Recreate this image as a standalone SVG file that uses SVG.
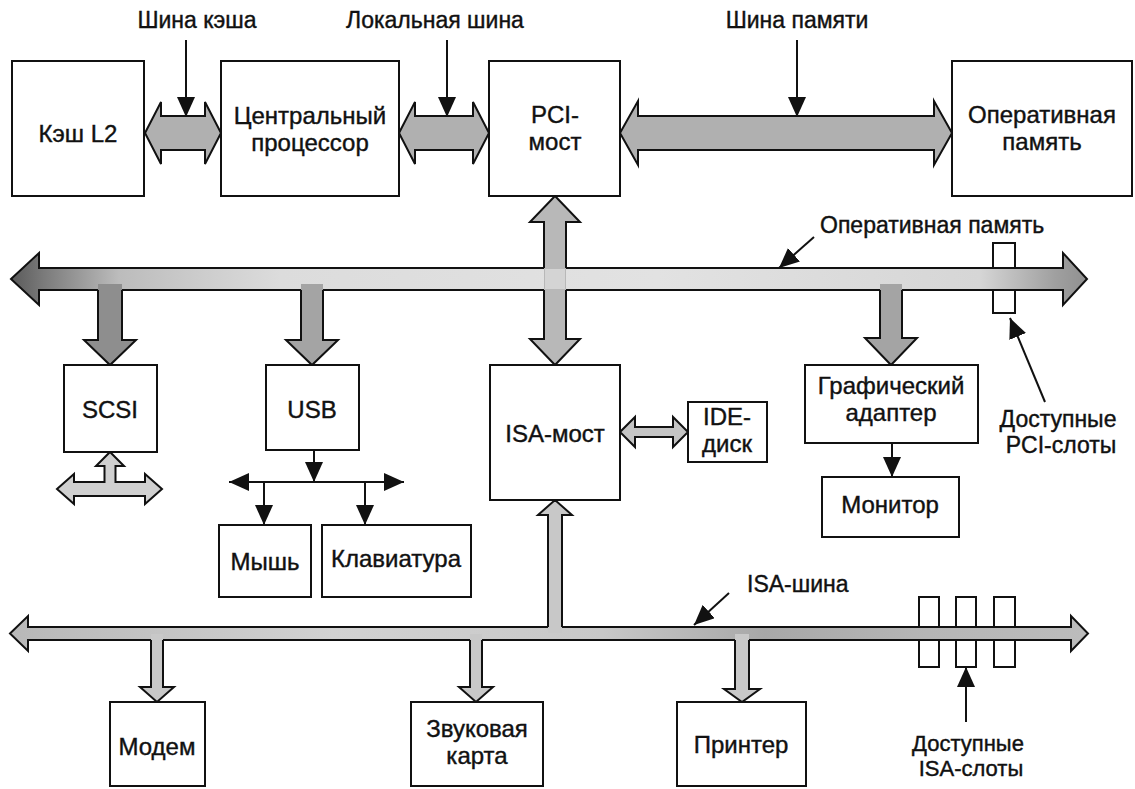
<svg xmlns="http://www.w3.org/2000/svg" width="1135" height="789" viewBox="0 0 1135 789">
<style>
.box{fill:#fff;stroke:#111;stroke-width:2}
.t{font-family:"Liberation Sans",Arial,sans-serif;font-size:24px;fill:#111;stroke:#111;stroke-width:0.4;text-anchor:middle}
.lb{font-family:"Liberation Sans",Arial,sans-serif;font-size:23px;fill:#111;stroke:#111;stroke-width:0.4}
.ptr{stroke:#111;stroke-width:2;fill:none;marker-end:url(#ah)}
.ol{stroke:#111;stroke-width:2;fill:none;stroke-linejoin:miter}
.bus{stroke:#111;stroke-width:2;stroke-linejoin:miter}
.top{fill:#b0b0b0}
.br{fill:#a4a4a4}
.isa{fill:#c8c8c8}
.slot{fill:#fff;stroke:#111;stroke-width:2}
</style>
<defs>
<marker id="ah" viewBox="0 0 20 18" refX="20" refY="9" markerWidth="20" markerHeight="18" markerUnits="userSpaceOnUse" orient="auto">
<path d="M0,0 L20,9 L0,18 Z" fill="#111"/>
</marker>
<linearGradient id="gpci" gradientUnits="userSpaceOnUse" x1="11" y1="0" x2="1087" y2="0">
<stop offset="0" stop-color="#5a5a5a"/>
<stop offset="0.03" stop-color="#7a7a7a"/>
<stop offset="0.1" stop-color="#bcbcbc"/>
<stop offset="0.25" stop-color="#dcdcdc"/>
<stop offset="0.6" stop-color="#e2e2e2"/>
<stop offset="0.9" stop-color="#d6d6d6"/>
<stop offset="0.97" stop-color="#a0a0a0"/>
<stop offset="1" stop-color="#909090"/>
</linearGradient>
<linearGradient id="gisa" gradientUnits="userSpaceOnUse" x1="10" y1="0" x2="1088" y2="0">
<stop offset="0" stop-color="#b8b8b8"/>
<stop offset="0.3" stop-color="#d2d2d2"/>
<stop offset="0.55" stop-color="#c8c8c8"/>
<stop offset="0.7" stop-color="#a8a8a8"/>
<stop offset="0.85" stop-color="#b6b6b6"/>
<stop offset="1" stop-color="#bcbcbc"/>
</linearGradient>
</defs>
<rect width="1135" height="789" fill="#fff"/>

<g id="slots">
<rect class="slot" x="993" y="243" width="22" height="70"/>
<rect class="slot" x="919" y="597" width="20" height="70"/>
<rect class="slot" x="956" y="597" width="20" height="70"/>
<rect class="slot" x="994" y="597" width="21" height="70"/>
</g>

<g id="connectors">
<polygon class="bus top" points="145,133 161,102 161,116 205,116 205,102 221,133 205,164 205,150 161,150 161,164"/>
<polygon class="bus top" points="399,133 415,102 415,116 473,116 473,102 489,133 473,164 473,150 415,150 415,164"/>
<polygon class="bus top" points="620,133 638,101 638,116 934,116 934,101 952,133 934,165 934,150 638,150 638,165"/>
<polygon class="bus" fill="url(#gpci)" points="11,279 39,253 39,268 1063,268 1063,253 1087,279 1063,305 1063,290 39,290 39,305"/>
<polygon fill="#b8b8b8" points="555,196 580,222 566,222 566,339 580,339 555,365 530,339 544,339 544,222 530,222"/>
<rect x="545" y="269" width="20" height="20" fill="#d4d4d4"/>
<path class="ol" d="M544,268 L544,222 L530,222 L555,196 L580,222 L566,222 L566,268"/>
<path class="ol" d="M544,290 L544,339 L530,339 L555,365 L580,339 L566,339 L566,290"/>
<polygon fill="#8e8e8e" points="98,284 122,284 122,340 136,340 110,365 84,340 98,340"/>
<path class="ol" d="M98,290 L98,340 L84,340 L110,365 L136,340 L122,340 L122,290"/>
<polygon class="br" points="301,284 323,284 323,340 338,340 312,365 286,340 301,340"/>
<path class="ol" d="M301,290 L301,340 L286,340 L312,365 L338,340 L323,340 L323,290"/>
<polygon class="br" points="880,284 902,284 902,338 917,338 891,365 865,338 880,338"/>
<path class="ol" d="M880,290 L880,338 L865,338 L891,365 L917,338 L902,338 L902,290"/>
<polygon class="bus" fill="#d0d0d0" points="57,489 74,474 74,482 104.5,482 104.5,466 96,466 110,452 124,466 115.5,466 115.5,482 145,482 145,474 162,489 145,504 145,496 74,496 74,504"/>
<polygon class="bus" fill="#c4c4c4" points="620,432 635,417 635,427 673,427 673,417 688,432 673,447 673,437 635,437 635,447"/>
<polygon class="bus" fill="url(#gisa)" points="10,633.5 28,616 28,627 1071,627 1071,616 1088,633.5 1071,651 1071,640 28,640 28,651"/>
<polygon class="isa" points="548,633 548,515 538,515 555,500 572,515 562,515 562,633"/>
<path class="ol" d="M548,627 L548,515 L538,515 L555,500 L572,515 L562,515 L562,627"/>
<polygon class="isa" points="151,634 163,634 163,687 174,687 157,702 140,687 151,687"/>
<path class="ol" d="M151,640 L151,687 L140,687 L157,702 L174,687 L163,687 L163,640"/>
<polygon class="isa" points="470,634 482,634 482,687 493,687 476,702 459,687 470,687"/>
<path class="ol" d="M470,640 L470,687 L459,687 L476,702 L493,687 L482,687 L482,640"/>
<polygon class="isa" points="735,634 749,634 749,689 760,689 742,702 724,689 735,689"/>
<path class="ol" d="M735,640 L735,689 L724,689 L742,702 L760,689 L749,689 L749,640"/>
<line class="ptr" x1="186" y1="40" x2="186" y2="117"/>
<line class="ptr" x1="447" y1="40" x2="447" y2="117"/>
<line class="ptr" x1="797" y1="40" x2="797" y2="117"/>
<line class="ptr" x1="814" y1="237" x2="779" y2="268"/>
<line class="ptr" x1="1045" y1="402" x2="1010" y2="318"/>
<line class="ptr" x1="729" y1="593" x2="694" y2="625"/>
<line class="ptr" x1="966" y1="722" x2="966" y2="667"/>
<line class="ptr" x1="314" y1="450" x2="314" y2="482"/>
<line class="ptr" x1="314" y1="482" x2="229" y2="482"/>
<line class="ptr" x1="314" y1="482" x2="404" y2="482"/>
<line class="ptr" x1="264" y1="482" x2="264" y2="525"/>
<line class="ptr" x1="365" y1="482" x2="365" y2="525"/>
<line class="ptr" x1="892" y1="443" x2="892" y2="477"/>
</g>

<g id="labels">
<text class="lb" x="197" y="28" text-anchor="middle">Шина кэша</text>
<text class="lb" x="435" y="28" text-anchor="middle">Локальная шина</text>
<text class="lb" x="797" y="28" text-anchor="middle">Шина памяти</text>
<text class="lb" x="820" y="233">Оперативная память</text>
<text class="lb" x="1058" y="427" text-anchor="middle">Доступные</text>
<text class="lb" x="1061" y="453" text-anchor="middle">PCI-слоты</text>
<text class="lb" x="747" y="592">ISA-шина</text>
<text class="lb" x="968" y="751" text-anchor="middle" style="font-size:22px">Доступные</text>
<text class="lb" x="971" y="776" text-anchor="middle" style="font-size:22px">ISA-слоты</text>
</g>

<g id="cache"><rect class="box" x="12" y="61" width="132" height="135"/><text class="t" x="78" y="142">Кэш L2</text></g>
<g id="cpu"><rect class="box" x="221" y="61" width="178" height="135"/><text class="t" x="310" y="124">Центральный</text><text class="t" x="310" y="151">процессор</text></g>
<g id="pci-bridge"><rect class="box" x="489" y="61" width="131" height="135"/><text class="t" x="555" y="123">PCI-</text><text class="t" x="555" y="150">мост</text></g>
<g id="ram"><rect class="box" x="952" y="61" width="180" height="135"/><text class="t" x="1042" y="123">Оперативная</text><text class="t" x="1042" y="150">память</text></g>
<g id="scsi"><rect class="box" x="64" y="365" width="93" height="87"/><text class="t" x="110" y="418">SCSI</text></g>
<g id="usb"><rect class="box" x="266" y="365" width="93" height="85"/><text class="t" x="312" y="418">USB</text></g>
<g id="isa-bridge"><rect class="box" x="490" y="365" width="130" height="135"/><text class="t" x="555" y="442">ISA-мост</text></g>
<g id="ide"><rect class="box" x="688" y="402" width="79" height="60"/><text class="t" x="727" y="425">IDE-</text><text class="t" x="727" y="452">диск</text></g>
<g id="gpu"><rect class="box" x="805" y="365" width="173" height="78"/><text class="t" x="891" y="394">Графический</text><text class="t" x="891" y="421">адаптер</text></g>
<g id="monitor"><rect class="box" x="822" y="477" width="137" height="60"/><text class="t" x="890" y="513">Монитор</text></g>
<g id="mouse"><rect class="box" x="219" y="525" width="92" height="72"/><text class="t" x="265" y="570">Мышь</text></g>
<g id="keyboard"><rect class="box" x="322" y="525" width="149" height="72"/><text class="t" x="396" y="567">Клавиатура</text></g>
<g id="modem"><rect class="box" x="110" y="702" width="95" height="84"/><text class="t" x="157" y="755">Модем</text></g>
<g id="sound"><rect class="box" x="411" y="702" width="132" height="84"/><text class="t" x="477" y="737">Звуковая</text><text class="t" x="477" y="764">карта</text></g>
<g id="printer"><rect class="box" x="677" y="702" width="129" height="84"/><text class="t" x="741" y="753">Принтер</text></g>
</svg>
